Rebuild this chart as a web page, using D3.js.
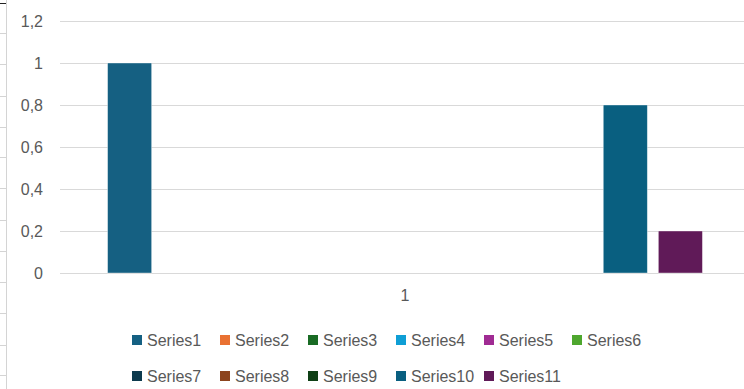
<!DOCTYPE html>
<html>
<head>
<meta charset="utf-8">
<script src="https://cdn.jsdelivr.net/npm/d3@7"></script>
<style>
  body { margin: 0; background: #fff; }
  svg { display: block; font-family: "Liberation Sans", "Lato", sans-serif; }
</style>
</head>
<body>
<div id="chart"></div>
<script>
// Data___________________________________________
const categories = ["1"];
const seriesNames = ["Series1", "Series2", "Series3", "Series4", "Series5", "Series6",
                     "Series7", "Series8", "Series9", "Series10", "Series11"];
const seriesValues = [1, 0, 0, 0, 0, 0, 0, 0, 0, 0.8, 0.2];
const seriesColors = ["#156082", "#E97132", "#196B24", "#0F9ED5", "#A02B93", "#4EA72E",
                      "#0D3A4E", "#8C441E", "#0F4016", "#095F80", "#601A58"];
const yTicks = [0, 0.2, 0.4, 0.6, 0.8, 1, 1.2];

// Sizes__________________________________________
const width = 744, height = 389;
const plot = { left: 60, right: 750, top: 21, bottom: 273 };
const fontFamily = '"Liberation Sans", "Lato", sans-serif';

const svg = d3.select('#chart')
    .append('svg')
    .attr('width', width)
    .attr('height', height);

// spreadsheet cell border at the left edge
svg.append('line')
    .attr('x1', 6.5).attr('x2', 6.5)
    .attr('y1', 0).attr('y2', height)
    .attr('stroke', '#d4d4d4');
svg.append('line')
    .attr('x1', 0).attr('x2', 6)
    .attr('y1', 3.5).attr('y2', 3.5)
    .attr('stroke', '#222');
[33, 64, 96, 127, 157, 188, 220, 251, 282, 313, 345, 375].forEach(y => {
    svg.append('line')
        .attr('x1', 0).attr('x2', 6)
        .attr('y1', y + 0.5).attr('y2', y + 0.5)
        .attr('stroke', '#d4d4d4');
});

// Scales_________________________________________
const yScale = d3.scaleLinear()
    .domain([0, 1.2])
    .range([plot.bottom, plot.top]);

const x0 = d3.scaleBand()
    .domain(categories)
    .range([plot.left, plot.right])
    .paddingOuter(0.08);

const x1 = d3.scaleBand()
    .domain(seriesNames)
    .range([0, x0.bandwidth()])
    .paddingInner(0.2);

// Gridlines
svg.append('g')
    .selectAll('line')
    .data(yTicks)
    .enter()
    .append('line')
    .attr('x1', plot.left)
    .attr('x2', width)
    .attr('y1', d => Math.round(yScale(d)) + 0.5)
    .attr('y2', d => Math.round(yScale(d)) + 0.5)
    .attr('stroke', '#d9d9d9')
    .attr('stroke-width', 1);

// Y axis labels
const yAxis = d3.axisLeft(yScale)
    .tickValues(yTicks)
    .tickSize(0)
    .tickPadding(0)
    .tickFormat(d => d3.format('~g')(d).replace('.', ','));

svg.append('g')
    .attr('transform', 'translate(43, 0)')
    .call(yAxis)
    .call(g => g.select('.domain').remove())
    .call(g => g.selectAll('text')
        .attr('fill', '#595959')
        .style('font-size', '16px')
        .style('font-family', fontFamily));

// Bars
const rows = categories.map(c => seriesNames.map((s, i) => ({ cat: c, name: s, value: seriesValues[i], color: seriesColors[i] })));

svg.append('g')
    .selectAll('g')
    .data(rows)
    .enter()
    .append('g')
    .attr('transform', (d, i) => `translate(${x0(categories[i])}, 0)`)
    .selectAll('rect')
    .data(d => d.filter(v => v.value > 0))
    .enter()
    .append('rect')
    .attr('x', d => x1(d.name))
    .attr('y', d => yScale(d.value))
    .attr('width', x1.bandwidth())
    .attr('height', d => yScale(0) - yScale(d.value))
    .attr('fill', d => d.color)
    .attr('stroke', '#ffffff')
    .attr('stroke-opacity', 0.5)
    .attr('stroke-width', 0.75);

// X axis label
const xAxis = d3.axisBottom(x0).tickSize(0).tickPadding(0);
svg.append('g')
    .attr('transform', 'translate(0, 290)')
    .call(xAxis)
    .call(g => g.select('.domain').remove())
    .call(g => g.selectAll('text')
        .attr('fill', '#595959')
        .style('font-size', '16px')
        .style('font-family', fontFamily));

// Legend
const legend = svg.append('g')
    .selectAll('g')
    .data(seriesNames)
    .enter()
    .append('g')
    .attr('transform', (d, i) => `translate(${132 + (i % 6) * 88}, ${i < 6 ? 340 : 376})`);

legend.append('rect')
    .attr('x', 0)
    .attr('y', -5)
    .attr('width', 10)
    .attr('height', 10)
    .attr('fill', (d, i) => seriesColors[i]);

legend.append('text')
    .attr('x', 15)
    .attr('y', 0)
    .attr('dy', '0.36em')
    .attr('fill', '#595959')
    .style('font-size', '16px')
    .text(d => d);
</script>
</body>
</html>
